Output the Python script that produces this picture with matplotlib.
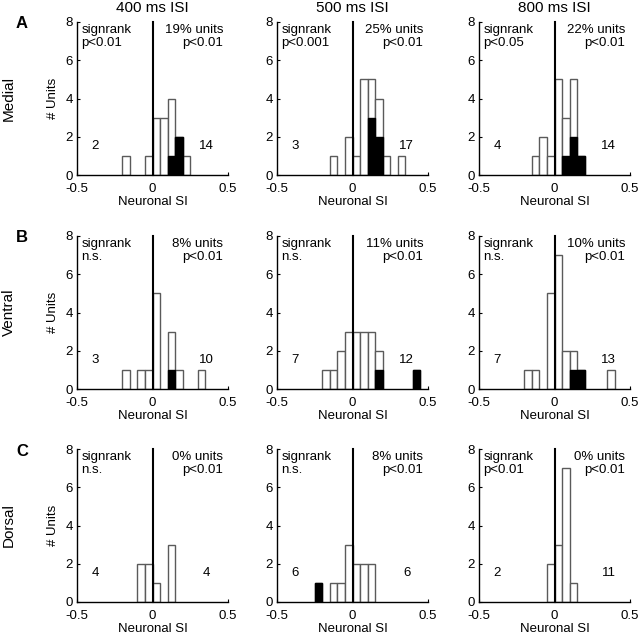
import numpy as np
import matplotlib
matplotlib.use("Agg")
import matplotlib.pyplot as plt

plt.rcParams['font.family'] = ['Liberation Sans', 'DejaVu Sans']
plt.rcParams['font.size'] = 9.5

# Bin left edges (bin width 0.05)
bin_left = [-0.25, -0.2, -0.15, -0.1, -0.05, 0.0, 0.05, 0.1, 0.15, 0.2, 0.25, 0.3, 0.35, 0.4]
bin_width = 0.05

isi_titles = ["400 ms ISI", "500 ms ISI", "800 ms ISI"]
regions = ["Medial", "Ventral", "Dorsal"]
panel_letters = ["A", "B", "C"]

# total counts per bin (white + black)
medial_400_total = [0, 1, 0, 0, 1, 3, 3, 4, 2, 1, 0, 0, 0, 0]
medial_400_sig   = [0, 0, 0, 0, 0, 0, 0, 1, 2, 0, 0, 0, 0, 0]
medial_500_total = [0, 0, 1, 0, 2, 1, 5, 5, 4, 1, 0, 1, 0, 0]
medial_500_sig   = [0, 0, 0, 0, 0, 0, 0, 3, 2, 0, 0, 0, 0, 0]
medial_800_total = [0, 0, 1, 2, 1, 5, 3, 5, 1, 0, 0, 0, 0, 0]
medial_800_sig   = [0, 0, 0, 0, 0, 0, 1, 2, 1, 0, 0, 0, 0, 0]
ventral_400_total = [0, 1, 0, 1, 1, 5, 0, 3, 1, 0, 0, 1, 0, 0]
ventral_400_sig   = [0, 0, 0, 0, 0, 0, 0, 1, 0, 0, 0, 0, 0, 0]
ventral_500_total = [0, 1, 1, 2, 3, 3, 3, 3, 2, 0, 0, 0, 0, 1]
ventral_500_sig   = [0, 0, 0, 0, 0, 0, 0, 0, 1, 0, 0, 0, 0, 1]
ventral_800_total = [0, 1, 1, 0, 5, 7, 2, 2, 1, 0, 0, 0, 1, 0]
ventral_800_sig   = [0, 0, 0, 0, 0, 0, 0, 1, 1, 0, 0, 0, 0, 0]
dorsal_400_total = [0, 0, 0, 2, 2, 1, 0, 3, 0, 0, 0, 0, 0, 0]
dorsal_400_sig   = [0, 0, 0, 0, 0, 0, 0, 0, 0, 0, 0, 0, 0, 0]
dorsal_500_total = [1, 0, 1, 1, 3, 2, 2, 2, 0, 0, 0, 0, 0, 0]
dorsal_500_sig   = [1, 0, 0, 0, 0, 0, 0, 0, 0, 0, 0, 0, 0, 0]
dorsal_800_total = [0, 0, 0, 0, 2, 3, 7, 1, 0, 0, 0, 0, 0, 0]
dorsal_800_sig   = [0, 0, 0, 0, 0, 0, 0, 0, 0, 0, 0, 0, 0, 0]

signrank_text = [["p<0.01", "p<0.001", "p<0.05"],
                 ["n.s.", "n.s.", "n.s."],
                 ["n.s.", "n.s.", "p<0.01"]]
units_pct = [["19%", "25%", "22%"],
             ["8%", "11%", "10%"],
             ["0%", "8%", "0%"]]
left_counts = [[2, 3, 4], [3, 7, 7], [4, 6, 2]]
right_counts = [[14, 17, 14], [10, 12, 13], [4, 6, 11]]
x_tick_labels = ["-0.5", "0", "0.5"]

totals = [[medial_400_total, medial_500_total, medial_800_total],
          [ventral_400_total, ventral_500_total, ventral_800_total],
          [dorsal_400_total, dorsal_500_total, dorsal_800_total]]
sigs = [[medial_400_sig, medial_500_sig, medial_800_sig],
        [ventral_400_sig, ventral_500_sig, ventral_800_sig],
        [dorsal_400_sig, dorsal_500_sig, dorsal_800_sig]]

W, H = 640, 636
fig = plt.figure(figsize=(W / 100, H / 100), dpi=100)

col_left_px = [77, 277, 479]
ax_w_px = 151
row_top_px = [22, 236, 449]
ax_h_px = 153

edge_gray = "#5a5a5a"

for r in range(3):
    for c in range(3):
        l = col_left_px[c] / W
        b = 1 - (row_top_px[r] + ax_h_px) / H
        ax = fig.add_axes([l, b, ax_w_px / W, ax_h_px / H])
        tot = np.array(totals[r][c])
        sg = np.array(sigs[r][c])
        x = np.array(bin_left)
        mask = tot > 0
        ax.bar(x[mask], tot[mask], width=bin_width, align='edge',
               facecolor='white', edgecolor=edge_gray, linewidth=1.0, zorder=2)
        smask = sg > 0
        if smask.any():
            ax.bar(x[smask], sg[smask], width=bin_width, align='edge',
                   facecolor='black', edgecolor='black', linewidth=1.0, zorder=3)
        ax.plot([0, 0], [0, 8], color='black', linewidth=1.5, zorder=4, clip_on=False)
        ax.set_xlim(-0.5, 0.5)
        ax.set_ylim(0, 8)
        ax.set_xticks([-0.5, 0, 0.5])
        ax.set_xticklabels(x_tick_labels)
        ax.set_yticks([0, 2, 4, 6, 8])
        ax.tick_params(direction='in', length=2, labelsize=9.5)
        ax.tick_params(axis='x', pad=5.5)
        ax.tick_params(axis='y', pad=3)
        for s in ['top', 'right']:
            ax.spines[s].set_visible(False)
        for s in ['left', 'bottom']:
            ax.spines[s].set_linewidth(1.0)
        ax.set_xlabel("Neuronal SI", fontsize=9.5, labelpad=1)
        if c == 0:
            ax.set_ylabel("# Units", fontsize=9.5, labelpad=5)
        ax.text(0.03, 0.985, "signrank\n" + signrank_text[r][c], transform=ax.transAxes,
                ha='left', va='top', fontsize=9.5, linespacing=1.1)
        ax.text(0.97, 0.985, units_pct[r][c] + " units\np<0.01", transform=ax.transAxes,
                ha='right', va='top', fontsize=9.5, linespacing=1.1, multialignment='right')
        ax.text(-0.38, 1.5, str(left_counts[r][c]), ha='center', va='center', fontsize=9.5)
        ax.text(0.36, 1.5, str(right_counts[r][c]), ha='center', va='center', fontsize=9.5)
        if r == 0:
            fig.text((col_left_px[c] + ax_w_px / 2) / W, 1 - 8 / H, isi_titles[c],
                     ha='center', va='center', fontsize=11)
    cy = 1 - (row_top_px[r] + ax_h_px / 2) / H
    fig.text(9 / W, cy, regions[r], rotation=90, ha='center', va='center', fontsize=11)
    fig.text(22 / W, 1 - (row_top_px[r] + 2) / H, panel_letters[r], ha='center',
             va='center', fontsize=12, fontweight='bold')

fig.savefig("out.png", dpi=100)
